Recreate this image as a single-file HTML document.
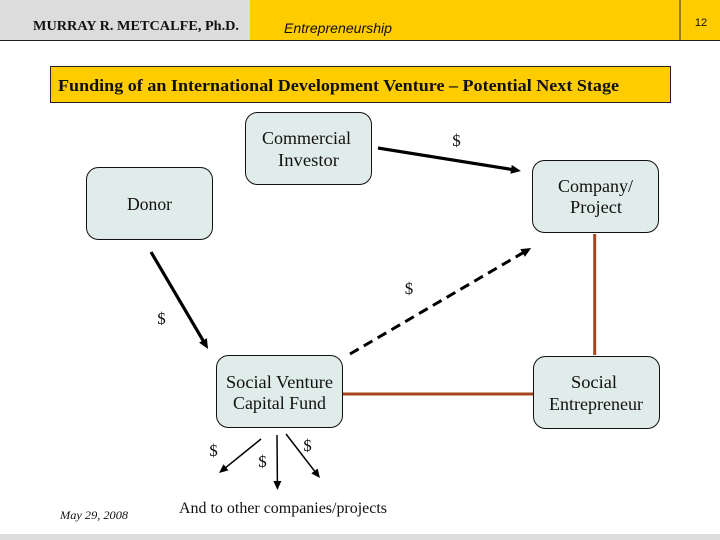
<!DOCTYPE html>
<html>
<head>
<meta charset="utf-8">
<style>
html,body{margin:0;padding:0;background:#fff;width:720px;height:540px;overflow:hidden}
svg{display:block}
text{font-family:"Liberation Serif",serif;fill:#111;font-size:18px}
.c{text-anchor:middle}
.d{text-anchor:middle;font-size:17px}
</style>
</head>
<body>
<svg width="720" height="540" viewBox="0 0 720 540" xmlns="http://www.w3.org/2000/svg">
<defs>
<marker id="a" markerUnits="userSpaceOnUse" markerWidth="12" markerHeight="10" refX="4" refY="4.500" orient="auto"><path d="M0 0L10 4.500L0 9Z" fill="#000"/></marker>
<marker id="b" markerUnits="userSpaceOnUse" markerWidth="11" markerHeight="10" refX="3" refY="4" orient="auto"><path d="M0 0L9 4L0 8Z" fill="#000"/></marker>
</defs>
<rect x="0" y="0" width="250" height="40" fill="#dcdcdc"/>
<rect x="250" y="0" width="470" height="40" fill="#ffcc00"/>
<rect x="0" y="40" width="720" height="1" fill="#222"/>
<rect x="679.500" y="0" width="1" height="40" fill="#333"/>
<text x="136" y="30" class="c" style="font-size:14px;font-weight:bold" textLength="206" lengthAdjust="spacingAndGlyphs">MURRAY R. METCALFE, Ph.D.</text>
<text x="284" y="33" style="font-family:'Liberation Sans',sans-serif;font-style:italic;font-size:13.500px" textLength="108" lengthAdjust="spacingAndGlyphs">Entrepreneurship</text>
<text x="701" y="26" class="c" style="font-family:'Liberation Sans',sans-serif;font-size:11px">12</text>

<rect x="50.500" y="66.500" width="620" height="36" fill="#ffcc00" stroke="#222" stroke-width="1"/>
<text x="58" y="91" style="font-size:17px;font-weight:bold" textLength="561" lengthAdjust="spacingAndGlyphs">Funding of an International Development Venture – Potential Next Stage</text>

<g fill="#e0ecea" stroke="#111" stroke-width="1">
<rect x="245.500" y="112.500" width="126" height="72" rx="12"/>
<rect x="86.500" y="167.500" width="126" height="72" rx="12"/>
<rect x="532.500" y="160.500" width="126" height="72" rx="12"/>
<rect x="216.500" y="355.500" width="126" height="72" rx="12"/>
<rect x="533.500" y="356.500" width="126" height="72" rx="12"/>
</g>

<line x1="594.700" y1="234" x2="594.700" y2="355" stroke="#a5451f" stroke-width="3"/>
<line x1="343" y1="394" x2="533" y2="394" stroke="#a5451f" stroke-width="3"/>

<line x1="378" y1="148" x2="515" y2="170" stroke="#000" stroke-width="3.200" marker-end="url(#a)"/>
<line x1="151" y1="252" x2="205" y2="343.800" stroke="#000" stroke-width="3.200" marker-end="url(#a)"/>
<line x1="350" y1="354" x2="526" y2="251" stroke="#000" stroke-width="3" stroke-dasharray="10 6" marker-end="url(#a)"/>
<line x1="261" y1="439" x2="223.700" y2="469.200" stroke="#000" stroke-width="1.500" marker-end="url(#b)"/>
<line x1="277" y1="435" x2="277.400" y2="484" stroke="#000" stroke-width="1.500" marker-end="url(#b)"/>
<line x1="286" y1="434" x2="316.300" y2="473.300" stroke="#000" stroke-width="1.500" marker-end="url(#b)"/>

<text x="262" y="144" textLength="89" lengthAdjust="spacingAndGlyphs">Commercial</text>
<text x="278" y="166" textLength="61" lengthAdjust="spacingAndGlyphs">Investor</text>
<text x="127" y="210" textLength="45" lengthAdjust="spacingAndGlyphs">Donor</text>
<text x="558" y="192" textLength="75" lengthAdjust="spacingAndGlyphs">Company/</text>
<text x="570" y="213" textLength="52" lengthAdjust="spacingAndGlyphs">Project</text>
<text x="226" y="388" textLength="107" lengthAdjust="spacingAndGlyphs">Social Venture</text>
<text x="233" y="409" textLength="93" lengthAdjust="spacingAndGlyphs">Capital Fund</text>
<text x="571" y="388" textLength="46" lengthAdjust="spacingAndGlyphs">Social</text>
<text x="549" y="410" textLength="94" lengthAdjust="spacingAndGlyphs">Entrepreneur</text>

<text x="456.500" y="146" class="d">$</text>
<text x="409" y="294" class="d">$</text>
<text x="161.500" y="324" class="d">$</text>
<text x="213.500" y="456" class="d">$</text>
<text x="262.500" y="467" class="d">$</text>
<text x="307.500" y="451" class="d">$</text>

<text x="179" y="513" style="font-size:16px" textLength="208" lengthAdjust="spacingAndGlyphs">And to other companies/projects</text>
<text x="60" y="519" style="font-size:12px;font-style:italic" textLength="68" lengthAdjust="spacingAndGlyphs">May 29, 2008</text>

<rect x="0" y="534" width="720" height="6" fill="#dcdcdc"/>
</svg>
</body>
</html>
